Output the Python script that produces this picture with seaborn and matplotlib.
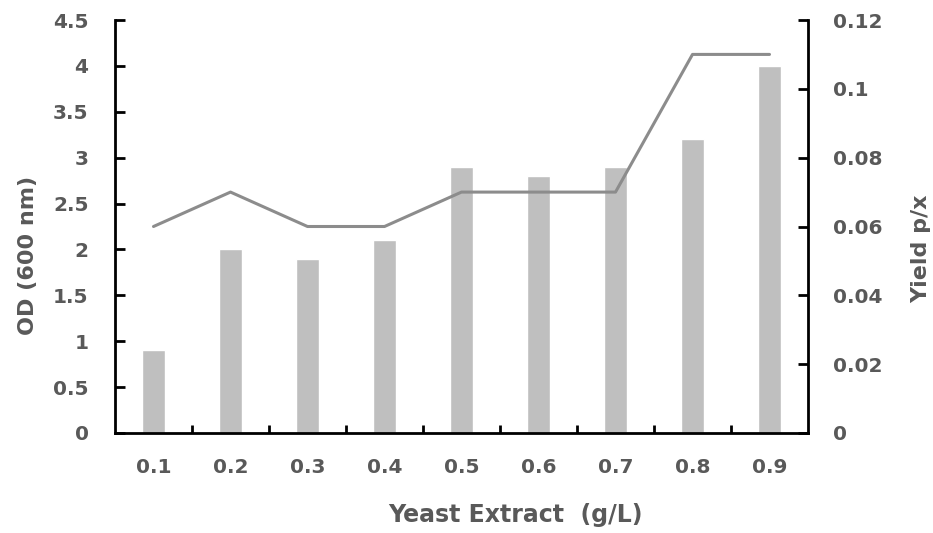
import matplotlib
matplotlib.use("Agg")
import matplotlib.pyplot as plt
import seaborn as sns
import pandas as pd
from matplotlib.ticker import FixedLocator

# Yeast extract concentration (g/L)
yeast_extract = ["0.1", "0.2", "0.3", "0.4", "0.5", "0.6", "0.7", "0.8", "0.9"]
# Optical density at 600 nm
od_600 = [0.9, 2.0, 1.9, 2.1, 2.9, 2.8, 2.9, 3.2, 4.0]
# Product yield per biomass
yield_px = [0.06, 0.07, 0.06, 0.06, 0.07, 0.07, 0.07, 0.11, 0.11]
# Axis tick labels
od_ticks = ["0", "0.5", "1", "1.5", "2", "2.5", "3", "3.5", "4", "4.5"]
yield_ticks = ["0", "0.02", "0.04", "0.06", "0.08", "0.1", "0.12"]

df = pd.DataFrame({"ye": yeast_extract, "od": od_600, "yield": yield_px})

sns.set_theme(style="white")
plt.rcParams["font.family"] = ["DejaVu Sans"]

text_color = "#595959"
bar_color = "#BFBFBF"
line_color = "#8C8C8C"
n = len(yeast_extract)

fig = plt.figure(figsize=(9.33, 5.33), dpi=100)
ax = fig.add_axes([115 / 933, 1 - 433 / 533, 693 / 933, 413 / 533])

sns.barplot(data=df, x="ye", y="od", color=bar_color, width=0.29,
            saturation=1, ax=ax, zorder=1)
ax.set_xlim(-0.5, n - 0.5)
ax.set_ylim(0, 4.5)
ax.set_yticks([float(t) for t in od_ticks])
ax.set_yticklabels(od_ticks)

ax2 = ax.twinx()
sns.lineplot(x=list(range(n)), y=yield_px, color=line_color,
             linewidth=2.2, ax=ax2, sort=False)
ax2.set_ylim(0, 0.12)
ax2.set_yticks([float(t) for t in yield_ticks])
ax2.set_yticklabels(yield_ticks)
ax2.set_xlim(-0.5, n - 0.5)

for a in (ax, ax2):
    for side in ("left", "right", "bottom", "top"):
        a.spines[side].set_visible(False)
ax.spines["left"].set_visible(True)
ax.spines["bottom"].set_visible(True)
ax2.spines["right"].set_visible(True)
for sp in (ax.spines["left"], ax.spines["bottom"], ax2.spines["right"]):
    sp.set_color("black")
    sp.set_linewidth(2)

tsize = 14.5
# x: labels at category centres, short inward ticks at category boundaries
ax.tick_params(axis="x", which="major", length=0, pad=18, labelsize=tsize,
               labelcolor=text_color)
ax.xaxis.set_minor_locator(FixedLocator([i + 0.5 for i in range(n - 1)]))
ax.tick_params(axis="x", which="minor", direction="in", length=6, width=2,
               color="black", bottom=True)
ax.tick_params(axis="y", direction="in", length=7, width=2, color="black",
               pad=19, labelsize=tsize, labelcolor=text_color, left=True)
ax2.tick_params(axis="y", direction="in", length=7, width=2, color="black",
                pad=18, labelsize=tsize, labelcolor=text_color, right=True)
for lab in ax.get_xticklabels() + ax.get_yticklabels() + ax2.get_yticklabels():
    lab.set_fontweight("bold")

ax.set_xlabel("Yeast Extract  (g/L)", fontsize=17, fontweight="bold", color=text_color)
ax.set_ylabel("OD (600 nm)", fontsize=16, fontweight="bold", color=text_color)
ax2.set_ylabel("Yield p/x", fontsize=16, fontweight="bold", color=text_color,
               rotation=90)
ax.xaxis.set_label_coords((515 - 115) / 693, -(503 - 433) / 413)
ax.yaxis.set_label_coords(-(115 - 38) / 693, (433 - 255) / 413)
ax2.yaxis.set_label_coords((911 - 115) / 693, (433 - 249) / 413)

fig.savefig("out.png", dpi=100, facecolor="white")
